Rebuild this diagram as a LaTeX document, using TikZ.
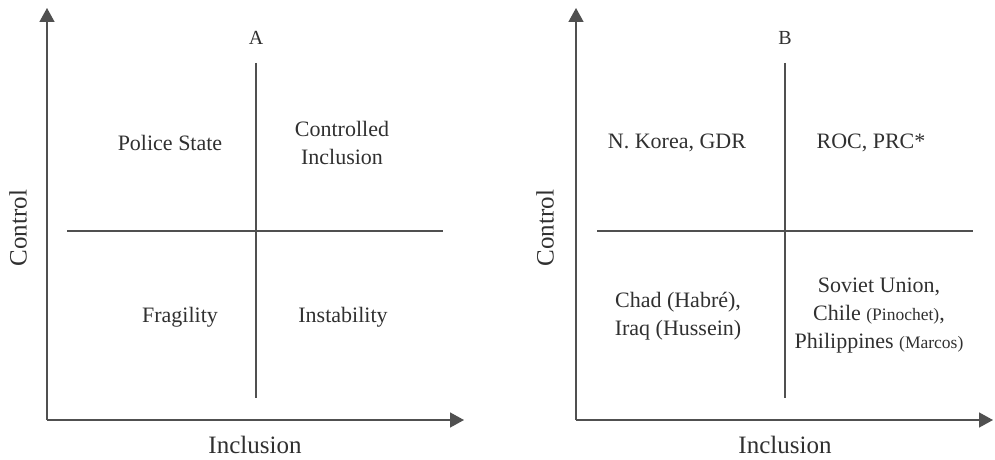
\documentclass[tikz,border=0pt]{standalone}
\usepackage{fontspec}
\setmainfont{Liberation Serif}
\usetikzlibrary{arrows.meta}
\definecolor{axisgray}{HTML}{505050}
\definecolor{txtgray}{HTML}{303030}
\begin{document}
\begin{tikzpicture}[x=1pt,y=-1pt,
  axis/.style={draw=axisgray,line width=1.5pt,-{Triangle[length=14pt,width=15pt]}},
  divider/.style={draw=axisgray,line width=1.3pt},
  lbl/.style={text=txtgray,font=\fontsize{22}{28}\selectfont,align=center,inner sep=0pt},
  axlbl/.style={text=txtgray,font=\fontsize{25}{28}\selectfont,inner sep=0pt},
  panel/.style={text=txtgray,font=\fontsize{20}{24}\selectfont,inner sep=0pt}]
\useasboundingbox (0,0) rectangle (995,460);
\newcommand{\sm}[1]{{\fontsize{17.5}{28}\selectfont #1}}
% Panel A
\coordinate (oA) at (47,420);
\coordinate (yA) at (47,8);
\coordinate (xA) at (464,420);
\coordinate (vAt) at (256,63);
\coordinate (vAb) at (256,398);
\coordinate (hAl) at (67,231);
\coordinate (hAr) at (443,231);
\draw[axis] (oA) -- (yA);
\draw[axis] (oA) -- (xA);
\draw[divider] (vAt) -- (vAb);
\draw[divider] (hAl) -- (hAr);
\node[panel] (tA) at (256,38) {A};
\node[lbl] (ps) at (170,143) {Police State};
\node[lbl] (ci) at (342,143) {Controlled\\Inclusion};
\node[lbl] (fr) at (180,317) {Fragility};
\node[lbl] (in) at (343,317) {Instability};
\node[axlbl,rotate=90] (cA) at (18,228) {Control};
\node[axlbl] (iA) at (255,445) {Inclusion};
% Panel B
\coordinate (oB) at (576,420);
\coordinate (yB) at (576,8);
\coordinate (xB) at (993,420);
\coordinate (vBt) at (785,63);
\coordinate (vBb) at (785,398);
\coordinate (hBl) at (597,231);
\coordinate (hBr) at (973,231);
\draw[axis] (oB) -- (yB);
\draw[axis] (oB) -- (xB);
\draw[divider] (vBt) -- (vBb);
\draw[divider] (hBl) -- (hBr);
\node[panel] (tB) at (785,38) {B};
\node[lbl] (nk) at (677,143) {N. Korea, GDR};
\node[lbl] (roc) at (871,143) {ROC, PRC*};
\node[lbl] (chad) at (678,316) {Chad (Habré),\\Iraq (Hussein)};
\node[lbl] (sov) at (879,316) {Soviet Union,\\Chile \sm{(Pinochet)},\\Philippines \sm{(Marcos)}};
\node[axlbl,rotate=90] (cB) at (545,228) {Control};
\node[axlbl] (iB) at (785,445) {Inclusion};
\end{tikzpicture}
\end{document}
